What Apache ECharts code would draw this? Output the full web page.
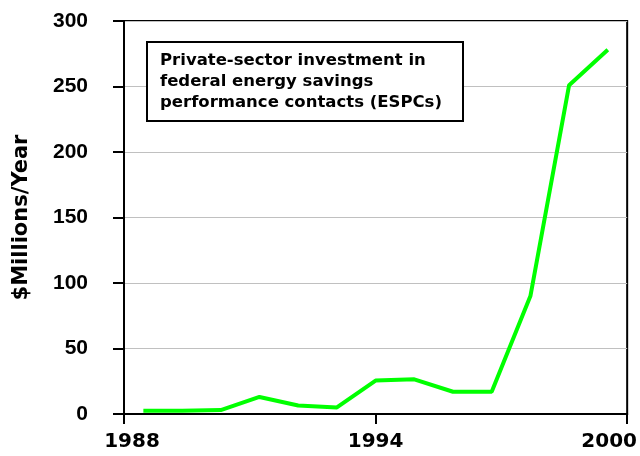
<!DOCTYPE html>
<html>
<head>
<meta charset="utf-8">
<script src="https://cdn.jsdelivr.net/npm/echarts@6/dist/echarts.min.js"></script>
<style>
html,body{margin:0;padding:0;background:#fff;}
#chart{width:640px;height:456px;}
</style>
</head>
<body>
<div id="chart"></div>
<script>
const categories = ['1988','1989','1990','1991','1992','1993','1994','1995','1996','1997','1998','1999','2000'];
const investment = [2.5, 2.5, 3, 13, 6.5, 5, 25.5, 26.5, 17, 17, 90, 251, 278];
const xTickLabels = ['1988', '1994', '2000'];
const yTicks = [0, 50, 100, 150, 200, 250, 300];
const boxText = ['Private-sector investment in', 'federal energy savings', 'performance contacts (ESPCs)'];
const yTitle = '$Millions/Year';

const chart = echarts.init(document.getElementById('chart'), null, {renderer: 'canvas'});
chart.setOption({
  animation: false,
  backgroundColor: '#ffffff',
  title: {
    text: boxText.join('\n'),
    left: 147,
    top: 42,
    padding: [8, 21, 8, 13],
    borderColor: '#000',
    borderWidth: 2,
    backgroundColor: '#fff',
    textStyle: {
      fontFamily: 'DejaVu Sans',
      fontWeight: 'bold',
      fontSize: 16.5,
      lineHeight: 21,
      color: '#000'
    }
  },
  grid: {
    left: 124, right: 11, top: 21, bottom: 42,
    show: true, borderColor: '#000', borderWidth: 2, backgroundColor: 'transparent'
  },
  xAxis: [
    {
      type: 'category',
      data: categories,
      boundaryGap: true,
      show: false
    },
    {
      type: 'value',
      position: 'bottom',
      min: 1988, max: 2000, interval: 6,
      axisLine: {show: true, lineStyle: {color: '#000', width: 2}},
      axisTick: {show: true, inside: false, length: 10, lineStyle: {color: '#000', width: 2}},
      splitLine: {show: false},
      axisLabel: {
        margin: 18,
        formatter: function (v) {
          const s = String(v);
          const i = xTickLabels.indexOf(s);
          if (i === 0) return '{l|' + s + '}';
          if (i === xTickLabels.length - 1) return '{r|' + s + '}';
          return '{m|' + s + '}';
        },
        rich: {
          l: {fontFamily: 'DejaVu Sans', fontWeight: 'bold', fontSize: 20, color: '#000', padding: [0, 0, 0, 16]},
          m: {fontFamily: 'DejaVu Sans', fontWeight: 'bold', fontSize: 20, color: '#000'},
          r: {fontFamily: 'DejaVu Sans', fontWeight: 'bold', fontSize: 20, color: '#000', padding: [0, 36, 0, 0]}
        }
      }
    }
  ],
  yAxis: {
    type: 'value',
    min: yTicks[0], max: yTicks[yTicks.length - 1], interval: yTicks[1] - yTicks[0],
    name: yTitle,
    nameLocation: 'middle',
    nameRotate: 90,
    nameGap: 92,
    nameTextStyle: {fontFamily: 'DejaVu Sans', fontWeight: 'bold', fontSize: 21, color: '#000'},
    axisLine: {show: true, lineStyle: {color: '#000', width: 2}},
    axisTick: {show: true, inside: false, length: 11, lineStyle: {color: '#000', width: 2}},
    splitLine: {show: true, lineStyle: {color: '#c0c0c0', width: 1}},
    axisLabel: {
      margin: 36,
      fontFamily: 'Liberation Sans', fontWeight: 'bold', fontSize: 21, color: '#000'
    }
  },
  series: [{
    type: 'line',
    xAxisIndex: 0,
    data: investment,
    showSymbol: false,
    symbol: 'none',
    lineStyle: {color: '#00ff00', width: 4},
    z: 3
  }]
});
</script>
</body>
</html>
